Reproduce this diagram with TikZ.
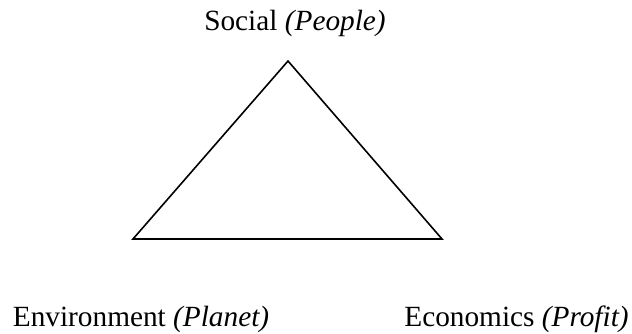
\documentclass[tikz,border=0pt]{standalone}
\usepackage{fontspec}
\setmainfont{Liberation Serif}
\begin{document}
\begin{tikzpicture}[x=1pt,y=1pt,
  label/.style={inner sep=0pt, anchor=base, font=\fontsize{29.3}{35}\selectfont},
  edge/.style={line width=1.6pt, line join=miter}]
  \useasboundingbox (0,0) rectangle (632,333);
  % corners of the triangle
  \coordinate (top)   at (288,272);
  \coordinate (left)  at (133,94);
  \coordinate (right) at (442,94);
  \draw[edge] (top) -- (left) -- (right) -- cycle;
  % pillar labels
  \node[label] (social) at (295,303) {Social \textit{(People)}};
  \node[label] (env)    at (141,7)   {Environment \textit{(Planet)}};
  \node[label] (econ)   at (516.5,7) {Economics \textit{(Profit)}};
\end{tikzpicture}
\end{document}
